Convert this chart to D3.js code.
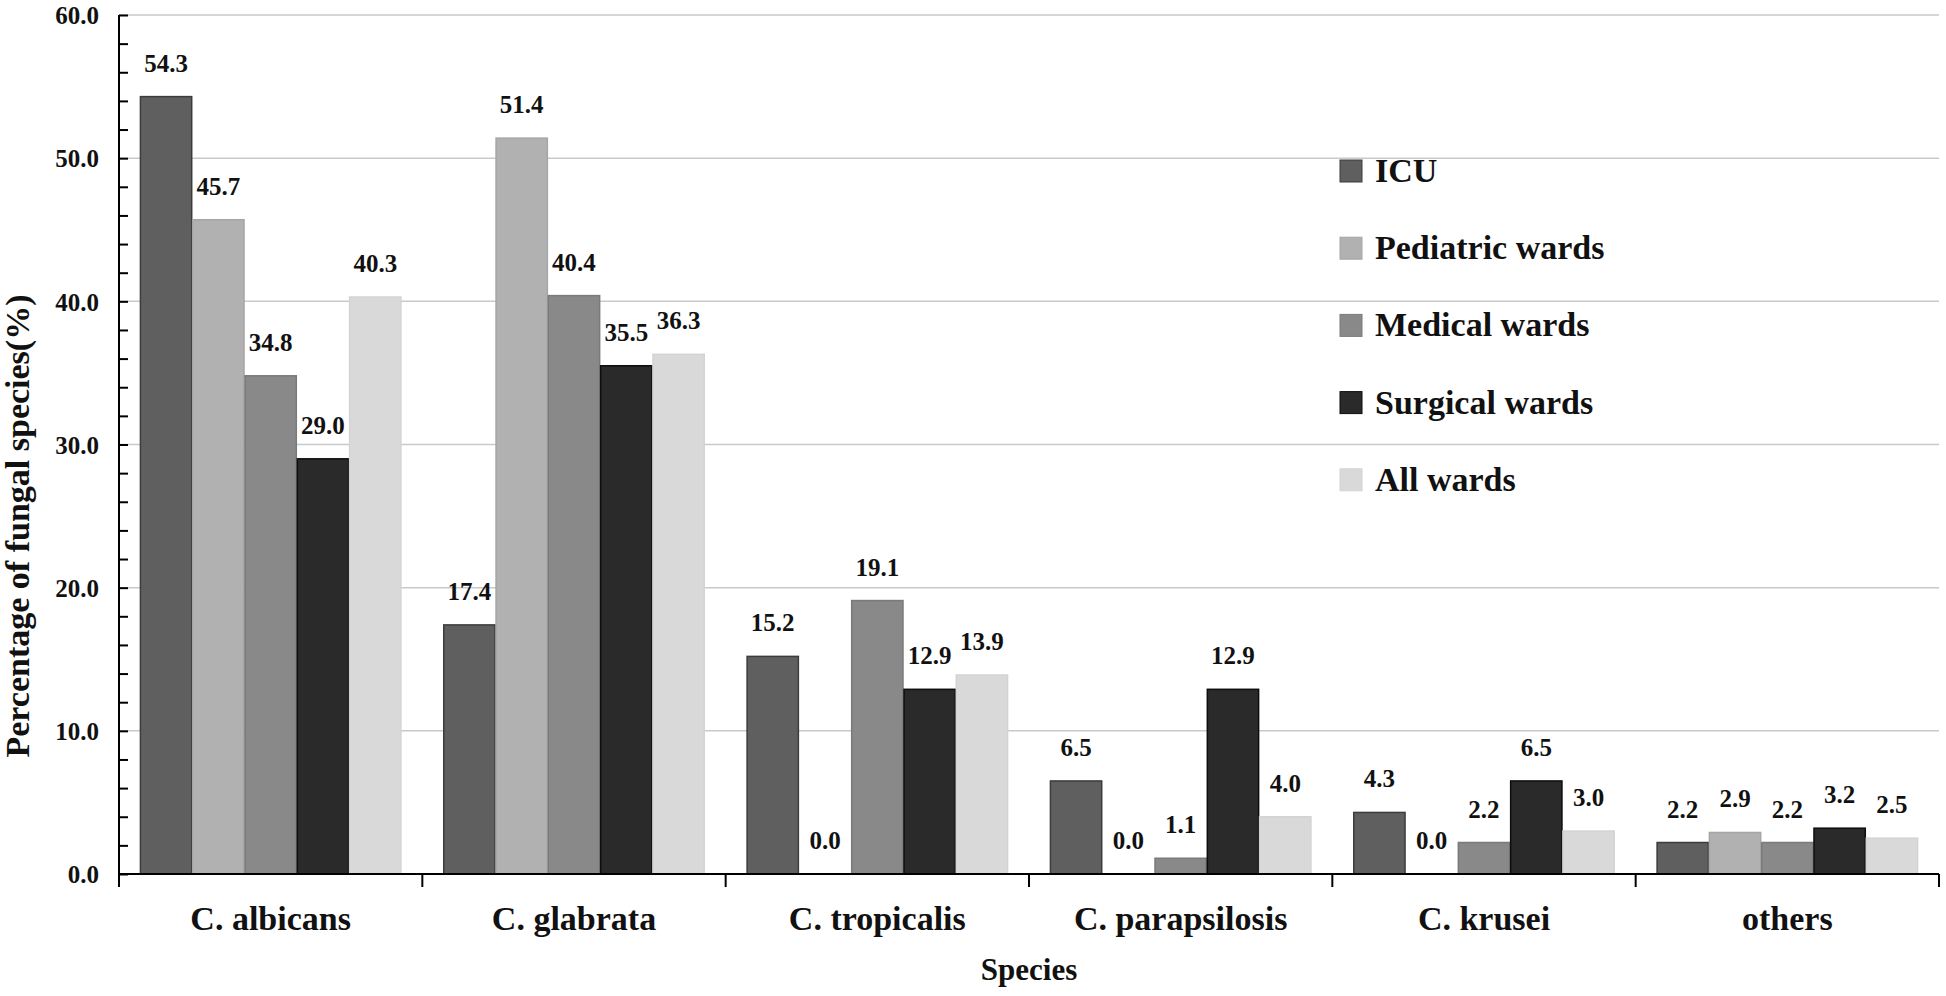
<!DOCTYPE html>
<html>
<head>
<meta charset="utf-8">
<script src="https://cdn.jsdelivr.net/npm/d3@7/dist/d3.min.js"></script>
<style>
  html, body { margin: 0; padding: 0; background: #fff; }
  svg { display: block; }
  text { font-family: "Liberation Serif", "Times New Roman", serif; font-weight: bold; fill: #111; }
</style>
</head>
<body>
<svg id="chart" width="1946" height="996"></svg>
<script>
const categories = ["C. albicans", "C. glabrata", "C. tropicalis", "C. parapsilosis", "C. krusei", "others"];
const seriesNames = ["ICU", "Pediatric wards", "Medical wards", "Surgical wards", "All wards"];
const icu = [54.3, 17.4, 15.2, 6.5, 4.3, 2.2];
const pediatric = [45.7, 51.4, 0.0, 0.0, 0.0, 2.9];
const medical = [34.8, 40.4, 19.1, 1.1, 2.2, 2.2];
const surgical = [29.0, 35.5, 12.9, 12.9, 6.5, 3.2];
const allWards = [40.3, 36.3, 13.9, 4.0, 3.0, 2.5];
const yTicks = [0, 10, 20, 30, 40, 50, 60];
const yMinorTicks = d3.range(0, 60.01, 2);
const yTitle = "Percentage of fungal species(%)";
const xTitle = "Species";

const seriesValues = [icu, pediatric, medical, surgical, allWards];
const fills = ["#5f5f5f", "#b1b1b1", "#898989", "#2a2a2a", "#d9d9d9"];
const strokes = ["#3c3c3c", "#a6a6a6", "#7a7a7a", "#0d0d0d", "#d3d3d3"];

const svg = d3.select("#chart");
const mLeft = 119, mRight = 1939, mTop = 15, mBottom = 874;

const x = d3.scaleBand().domain(categories).range([mLeft, mRight]).padding(0);
const xs = d3.scaleBand().domain(seriesNames).range([0, x.bandwidth()]).paddingInner(0).paddingOuter(0.4);
const y = d3.scaleLinear().domain([0, 60]).range([mBottom, mTop]);

// gridlines
svg.append("g")
  .selectAll("line").data(yTicks.filter(d => d > 0)).join("line")
  .attr("x1", mLeft).attr("x2", mRight)
  .attr("y1", d => y(d)).attr("y2", d => y(d))
  .attr("stroke", "#c9c9c9").attr("stroke-width", 1.5);

// bars
const rows = categories.map((c, i) => ({ cat: c, vals: seriesNames.map((s, j) => ({ s, j, v: seriesValues[j][i] })) }));
const groups = svg.append("g").selectAll("g").data(rows).join("g")
  .attr("transform", d => `translate(${x(d.cat)},0)`);
groups.selectAll("rect").data(d => d.vals).join("rect")
  .attr("x", d => xs(d.s) + 0.5)
  .attr("width", xs.bandwidth() - 1)
  .attr("y", d => y(d.v))
  .attr("height", d => y(0) - y(d.v))
  .attr("fill", d => fills[d.j])
  .attr("stroke", d => d.v > 0 ? strokes[d.j] : "none")
  .attr("stroke-width", 1.5);
groups.selectAll("text").data(d => d.vals).join("text")
  .attr("x", d => xs(d.s) + xs.bandwidth() / 2)
  .attr("y", d => y(d.v) - 25)
  .attr("text-anchor", "middle")
  .style("font-size", "25px")
  .text(d => d.v.toFixed(1));

// y axis
const yAxis = svg.append("g").attr("transform", `translate(${mLeft},0)`);
yAxis.call(d3.axisLeft(y).tickValues(yMinorTicks).tickSize(-9).tickFormat(""));
yAxis.select(".domain").remove();
yAxis.selectAll(".tick line").attr("stroke", "#000").attr("stroke-width", 2);
const yLab = svg.append("g").attr("transform", `translate(${mLeft},0)`);
yLab.call(d3.axisLeft(y).tickValues(yTicks).tickSize(0).tickPadding(20).tickFormat(d => d3.format(".1f")(d)));
yLab.select(".domain").remove();
yLab.selectAll("text").style("font-size", "25px").attr("font-family", null).attr("fill", "#111").attr("dy", "0.35em");
svg.append("line").attr("x1", mLeft).attr("x2", mLeft).attr("y1", mTop).attr("y2", mBottom + 13)
  .attr("stroke", "#000").attr("stroke-width", 2);

// x axis
svg.append("line").attr("x1", mLeft).attr("x2", mRight).attr("y1", mBottom).attr("y2", mBottom)
  .attr("stroke", "#000").attr("stroke-width", 2);
const bounds = categories.map(c => x(c)).concat([mRight]);
svg.append("g").selectAll("line").data(bounds).join("line")
  .attr("x1", d => d).attr("x2", d => d).attr("y1", mBottom).attr("y2", mBottom + 13)
  .attr("stroke", "#000").attr("stroke-width", 2);
svg.append("g").selectAll("text").data(categories).join("text")
  .attr("x", d => x(d) + x.bandwidth() / 2)
  .attr("y", 930)
  .attr("text-anchor", "middle")
  .style("font-size", "34px")
  .text(d => d);

// axis titles
svg.append("text").attr("x", (mLeft + mRight) / 2).attr("y", 980).attr("text-anchor", "middle")
  .style("font-size", "31px").text(xTitle);
svg.append("text").attr("transform", "translate(29,526) rotate(-90)").attr("text-anchor", "middle")
  .style("font-size", "34px").text(yTitle);

// legend
const leg = svg.append("g").selectAll("g").data(seriesNames).join("g")
  .attr("transform", (d, i) => `translate(1340,${160 + i * 77.2})`);
leg.append("rect").attr("width", 22).attr("height", 22)
  .attr("fill", (d, i) => fills[i]).attr("stroke", (d, i) => strokes[i]).attr("stroke-width", 1);
leg.append("text").attr("x", 35).attr("y", 22).style("font-size", "34px").text(d => d);
</script>
</body>
</html>
